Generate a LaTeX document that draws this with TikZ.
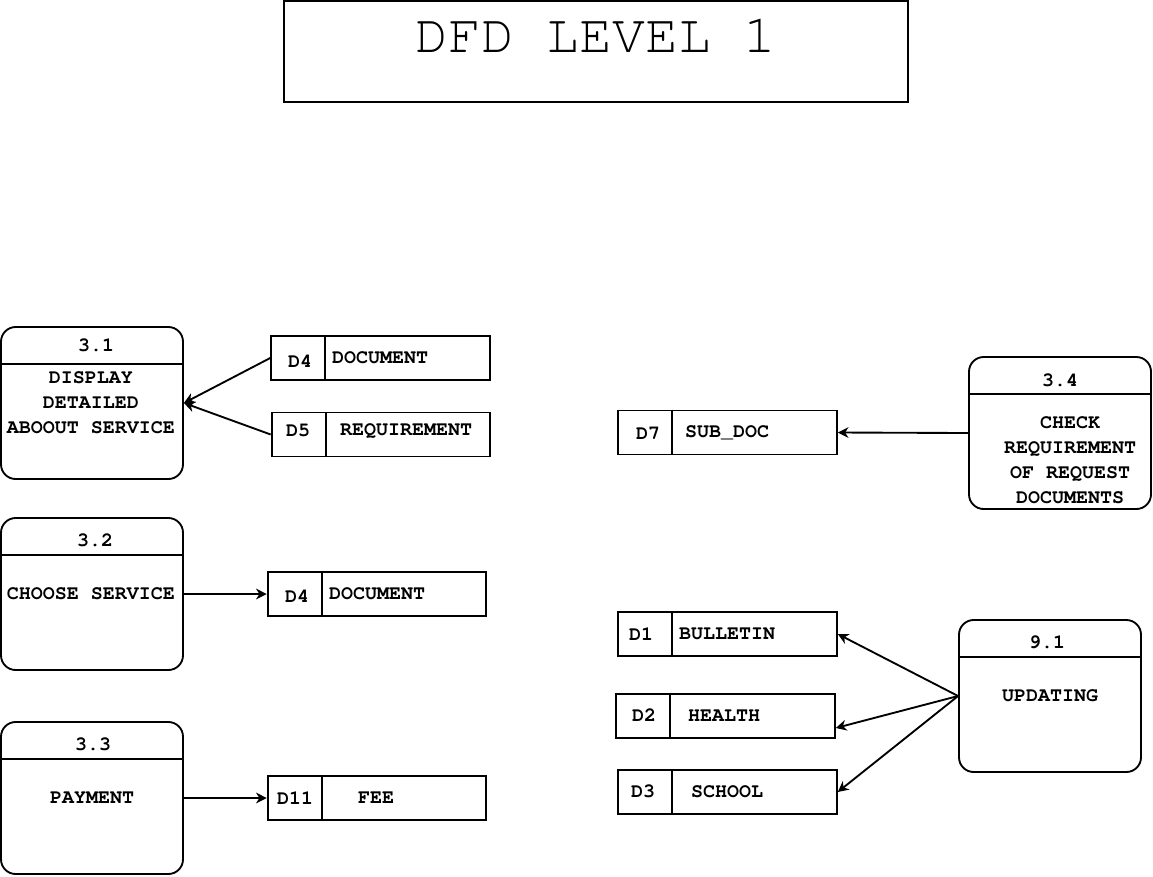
\documentclass[tikz,border=0pt]{standalone}
\usepackage[T1]{fontenc}
\renewcommand{\ttdefault}{pcr}
\usetikzlibrary{arrows.meta}
\usetikzlibrary{calc}
\tikzstyle{process}=[draw,line width=1.4pt,rounded corners=11pt,minimum width=136.5pt,minimum height=114pt]
\tikzstyle{store}=[draw,line width=1.4pt,minimum width=164pt,minimum height=33pt]
\tikzstyle{txt}=[inner sep=0pt,align=center,font=\ttfamily\bfseries\fontsize{15}{18.75}\selectfont]
\tikzstyle{flow}=[line width=1.4pt,-{Stealth[length=8pt,width=8pt,inset=2.5pt]}]

\begin{document}
\begin{tikzpicture}[x=0.75pt,y=-0.75pt]
  \useasboundingbox (0,0) rectangle (1153,876);

  % Title.
  \node[draw,line width=1.4pt,minimum width=468pt,minimum height=76pt] (title) at (596,51.5) {};
  \node[inner sep=0pt,anchor=base,font=\ttfamily\fontsize{41}{41}\selectfont] (titletext) at (596,52) {DFD LEVEL 1};

  % Processes.
  \node[process] (p31) at (92,403) {};
  \node[process] (p32) at (92,594) {};
  \node[process] (p33) at (92,798) {};
  \node[process] (p34) at (1060,433) {};
  \node[process] (p91) at (1050,696) {};
  \foreach \p in {p31,p32,p33,p34,p91}
    \draw[line width=1.4pt] ($(\p.north west)+(0,38)$) -- ($(\p.north east)+(0,38)$);

  % Process labels.
  \node[txt] (p31id) at (96,345) {3.1};
  \node[txt] (p31name) at (91,403) {DISPLAY\\DETAILED\\ABOOUT SERVICE};
  \node[txt] (p32id) at (95,540) {3.2};
  \node[txt] (p32name) at (91,594) {CHOOSE SERVICE};
  \node[txt] (p33id) at (93,744) {3.3};
  \node[txt] (p33name) at (92,798) {PAYMENT};
  \node[txt] (p34id) at (1060,380) {3.4};
  \node[txt] (p34name) at (1070,460.5) {CHECK\\REQUIREMENT\\OF REQUEST\\DOCUMENTS};
  \node[txt] (p91id) at (1047,642) {9.1};
  \node[txt] (p91name) at (1050,696) {UPDATING};

  % Data stores.
  \node[store] (d4a) at (380.5,358) {};
  \node[store] (d5) at (381,434.5) {};
  \node[store] (d4b) at (377,594) {};
  \node[store] (d11) at (377,798) {};
  \node[store] (d7) at (727.5,432.5) {};
  \node[store] (d1) at (727.5,634) {};
  \node[store] (d2) at (725.5,716) {};
  \node[store] (d3) at (727.5,792) {};
  \foreach \s in {d4a,d5,d4b,d11,d7,d1,d2,d3}
    \draw[line width=1.4pt] ($(\s.north west)+(55,0)$) -- ($(\s.south west)+(55,0)$);

  % Data store labels.
  \node[txt] (d4aid) at (300,361) {D4};
  \node[txt] (d4aname) at (380,358) {DOCUMENT};
  \node[txt] (d5id) at (298,431) {D5};
  \node[txt] (d5name) at (406,431) {REQUIREMENT};
  \node[txt] (d4bid) at (297,596) {D4};
  \node[txt] (d4bname) at (377,594) {DOCUMENT};
  \node[txt] (d11id) at (295,798) {D11};
  \node[txt] (d11name) at (376,798) {FEE};
  \node[txt] (d7id) at (648,434) {D7};
  \node[txt] (d7name) at (727,433) {SUB\_DOC};
  \node[txt] (d1id) at (641,634) {D1};
  \node[txt] (d1name) at (727,634) {BULLETIN};
  \node[txt] (d2id) at (644,715) {D2};
  \node[txt] (d2name) at (724,716) {HEALTH};
  \node[txt] (d3id) at (643,791) {D3};
  \node[txt] (d3name) at (727,792) {SCHOOL};

  % Flows.
  \draw[flow] (d4a.west) -- (p31.east);
  \draw[flow] (d5.west) -- (p31.east);
  \draw[flow] (p32.east) -- (d4b.west);
  \draw[flow] (p33.east) -- (d11.west);
  \draw[flow] (p34.west) -- (d7.east);
  \draw[flow] (p91.west) -- (d1.east);
  \draw[flow] (p91.west) -- ($(d2.east)+(0,12)$);
  \draw[flow] (p91.west) -- (d3.east);
\end{tikzpicture}
\end{document}
